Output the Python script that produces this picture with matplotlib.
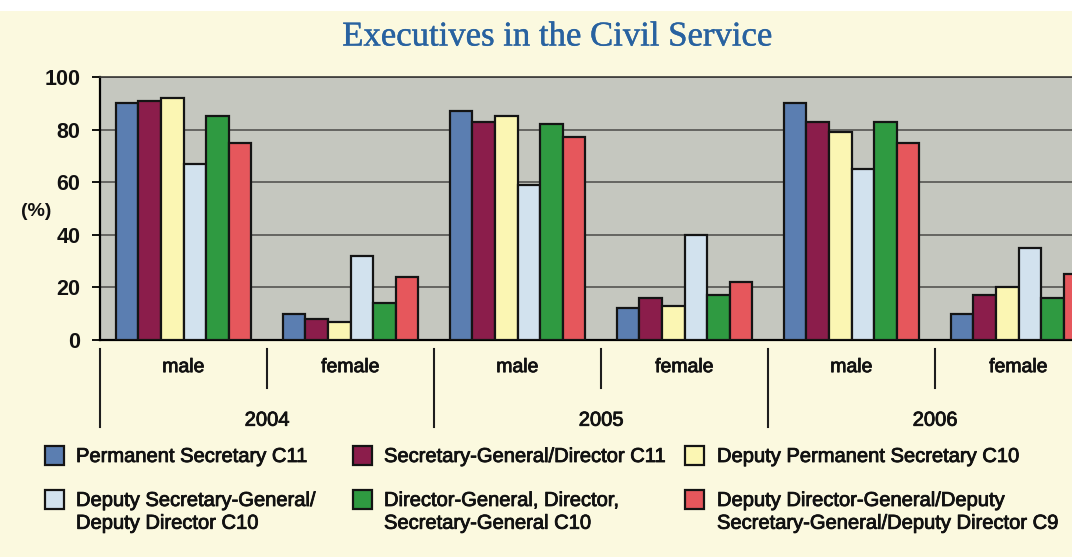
import numpy as np
import matplotlib
matplotlib.use("Agg")
import matplotlib.pyplot as plt
import matplotlib.patheffects as pe
from matplotlib.patches import Rectangle

plt.rcParams["font.family"] = ["Liberation Sans", "DejaVu Sans"]

# categories along the x axis (two per year)
groups = ["male", "female", "male", "female", "male", "female"]
years = ["2004", "2005", "2006"]

# share of executives per rank (%), in order 2004 m/f, 2005 m/f, 2006 m/f
perm_sec = [90, 10, 87, 12, 90, 10]
sec_gen = [91, 8, 83, 16, 83, 17]
dep_perm_sec = [92, 7, 85, 13, 79, 20]
dep_sec_gen = [67, 32, 59, 40, 65, 35]
dir_gen = [85, 14, 82, 17, 83, 16]
dep_dir_gen = [75, 24, 77, 22, 75, 25]

labels = ["Permanent Secretary C11",
          "Secretary-General/Director C11",
          "Deputy Permanent Secretary C10",
          "Deputy Secretary-General/\nDeputy Director C10",
          "Director-General, Director,\nSecretary-General C10",
          "Deputy Director-General/Deputy\nSecretary-General/Deputy Director C9"]
colors = ["#5b7eb1", "#8b1d4b", "#fbf6b3", "#d2e2ee", "#2f9a41", "#e6575c"]
series = [perm_sec, sec_gen, dep_perm_sec, dep_sec_gen, dir_gen, dep_dir_gen]

# slightly heavier strokes for the printed-looking text
heavy = [pe.withStroke(linewidth=0.6, foreground="#111111")]

W, H = 1072, 557
fig = plt.figure(figsize=(W/100, H/100), dpi=100, facecolor="#fbf9df")
fig.add_artist(Rectangle((0, 1-11/H), 1, 11/H, transform=fig.transFigure,
                         facecolor="white", edgecolor="none"))

# plot area runs past the right edge of the page
ax = fig.add_axes([100/W, (H-340)/H, 1002/W, 263/H])
ax.set_facecolor("#c5c7bf")

x = np.arange(len(groups))
w = 0.135
for i, vals in enumerate(series):
    ax.bar(x + (i-2.5)*w, vals, w, color=colors[i], edgecolor="#141414",
           linewidth=1.6, zorder=3)

ax.set_xlim(-0.5, 5.5)
ax.set_ylim(0, 100)
ax.set_yticks(range(0, 101, 20))
ax.set_xticks([])
ax.yaxis.grid(True, color="#4b4b48", lw=1.1)
ax.set_axisbelow(True)
ax.spines["right"].set_visible(False)
ax.spines["left"].set_linewidth(1.6)
ax.spines["bottom"].set_linewidth(1.6)
ax.spines["top"].set_linewidth(1.2)
ax.spines["top"].set_color("#3a3a38")
ax.tick_params(axis="y", length=6, width=1.3, pad=8, labelsize=15.5,
               labelcolor="#111111")
for t in ax.get_yticklabels():
    t.set_fontweight("bold")

fig.text(36/W, 1-212/H, "(%)", ha="center", va="center", fontsize=14,
         fontweight="bold", color="#111111")

# multi-level category axis
tr = ax.get_xaxis_transform()
for j, g in enumerate(groups):
    ax.text(j, -0.105, g, transform=tr, ha="center", va="center", fontsize=14,
            color="#111111", path_effects=heavy)
for k in range(len(groups) + 1):
    bottom = -0.33 if k % 2 == 0 else -0.183
    ax.plot([k-0.5, k-0.5], [-0.034, bottom], transform=tr, clip_on=False,
            color="#1e1e1e", lw=1.5)
for n, yr in enumerate(years):
    ax.text(2*n + 0.5, -0.305, yr, transform=tr, ha="center", va="center",
            fontsize=14.5, color="#111111", path_effects=heavy)

fig.text(558/W, 1-37/H, "Executives in the Civil Service", ha="center",
         va="center", fontsize=25, family="Liberation Serif", color="#2862a0",
         path_effects=[pe.withStroke(linewidth=0.3, foreground="#2862a0")])

# legend, three columns by two rows
sq_x = [45, 353, 685]
tx_x = [76, 384, 717]
row_y = [455, 499]
for i, lab in enumerate(labels):
    r, c = divmod(i, 3)
    fig.add_artist(Rectangle((sq_x[c]/W, 1-(row_y[r]+9.5)/H), 19/W, 19/H,
                             transform=fig.transFigure, facecolor=colors[i],
                             edgecolor="#141414", lw=1.6))
    fig.text(tx_x[c]/W, 1-(row_y[r]-8)/H, lab, ha="left", va="top",
             fontsize=14.5, linespacing=1.25, color="#111111",
             path_effects=heavy)

fig.savefig("out.png", dpi=100, facecolor=fig.get_facecolor())
